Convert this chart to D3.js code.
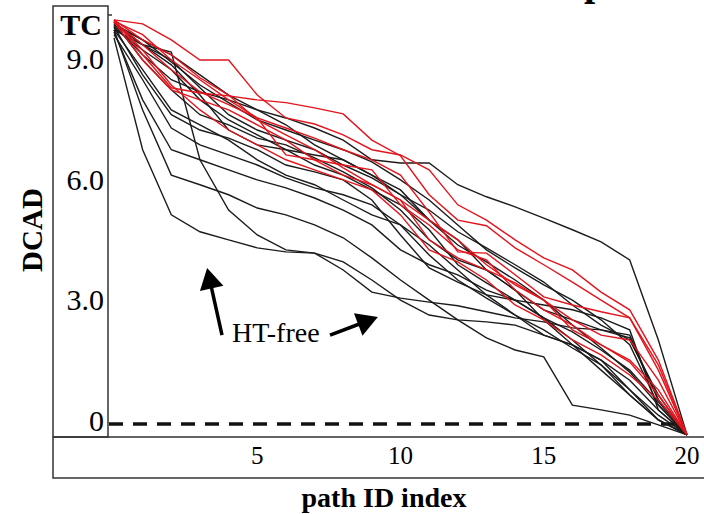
<!DOCTYPE html>
<html>
<head>
<meta charset="utf-8">
<script src="https://cdn.jsdelivr.net/npm/d3@7"></script>
<style>
  body { margin: 0; background: #fff; }
</style>
</head>
<body>
<div id="chart"></div>
<script>
// path ID index of every sample
const pathIndex = [0, 1, 2, 3, 4, 5, 6, 7, 8, 9, 10, 11, 12, 13, 14, 15, 16, 17, 18, 19, 20];

// DCAD values, red curves
const redSeries = [
    [10.05, 9.95, 9.55, 9.05, 9.05, 8.18, 7.61, 7.46, 7.19, 6.82, 6.69, 6.32, 5.45, 5.07, 4.58, 4.13, 3.83, 3.28, 2.84, 1.59, -0.27],
    [10.05, 9.18, 8.36, 8.23, 8.16, 8.06, 7.99, 7.86, 7.71, 7.06, 6.67, 5.70, 5.07, 4.93, 4.38, 3.96, 3.53, 3.08, 2.64, 1.34, -0.27],
    [10.0, 9.43, 8.81, 8.26, 7.94, 7.61, 7.36, 7.11, 6.82, 6.57, 6.19, 5.27, 4.28, 4.25, 3.71, 3.16, 2.96, 2.79, 2.64, 1.47, -0.27],
    [10.0, 9.05, 8.31, 8.06, 7.81, 7.44, 7.06, 6.57, 6.19, 5.95, 5.57, 4.58, 4.13, 3.83, 3.51, 3.08, 2.59, 2.21, 2.09, 1.09, -0.27],
    [10.05, 9.55, 9.18, 8.61, 8.18, 7.56, 7.19, 6.82, 6.37, 5.95, 5.57, 5.07, 4.58, 3.96, 3.46, 3.08, 2.34, 1.97, 1.59, 0.85, -0.27],
    [10.02, 9.68, 9.05, 8.56, 8.06, 7.61, 6.69, 6.57, 6.44, 6.32, 5.45, 4.95, 4.33, 4.08, 3.33, 2.84, 2.46, 1.97, 1.54, 0.72, -0.27],
    [10.02, 9.30, 8.43, 7.81, 7.31, 6.94, 6.57, 6.32, 6.07, 5.82, 5.20, 4.33, 4.03, 3.58, 2.96, 2.59, 2.09, 1.72, 1.22, 0.60, -0.27]
];

// DCAD values, black curves (HT-free)
const blackSeries = [
    [9.60, 6.82, 5.20, 4.78, 4.58, 4.38, 4.28, 4.25, 3.83, 3.28, 3.13, 3.03, 2.94, 2.79, 2.64, 2.54, 2.39, 2.34, 2.21, 0.60, -0.27],
    [9.80, 7.81, 6.19, 5.95, 5.70, 5.37, 5.20, 4.95, 4.63, 4.13, 3.58, 3.08, 2.59, 2.14, 1.84, 1.67, 0.47, 0.35, 0.22, -0.02, -0.27],
    [9.80, 9.43, 9.25, 6.57, 5.32, 4.70, 4.33, 4.25, 4.03, 3.58, 3.08, 2.71, 2.59, 2.54, 2.46, 2.21, 1.97, 1.59, 0.85, 0.10, -0.27],
    [9.93, 9.55, 9.18, 8.68, 8.18, 7.81, 7.61, 7.36, 7.06, 6.57, 6.49, 6.49, 5.95, 5.65, 5.40, 5.12, 4.83, 4.53, 4.08, 2.09, -0.27],
    [9.80, 8.81, 7.81, 7.44, 7.06, 6.57, 6.19, 5.95, 5.57, 5.20, 4.95, 4.45, 3.83, 3.21, 2.71, 2.21, 1.97, 1.59, 1.09, 0.35, -0.27],
    [9.68, 8.56, 7.36, 6.94, 6.69, 6.44, 6.12, 5.87, 5.70, 5.45, 4.95, 4.20, 3.58, 3.13, 2.71, 2.34, 1.89, 1.47, 0.85, 0.22, -0.27],
    [9.93, 9.43, 9.05, 8.36, 7.69, 7.31, 7.06, 6.82, 6.44, 6.12, 5.70, 5.07, 4.45, 4.03, 3.58, 3.08, 2.46, 1.89, 1.29, 0.47, -0.27],
    [9.85, 9.30, 8.81, 8.06, 7.56, 7.19, 6.82, 6.44, 6.19, 5.82, 5.45, 4.83, 3.96, 3.51, 3.08, 2.64, 2.29, 1.84, 1.34, 0.55, -0.27],
    [10.0, 9.43, 8.93, 8.18, 7.31, 6.94, 6.82, 6.69, 6.57, 6.19, 5.70, 5.32, 4.78, 4.38, 3.96, 3.53, 2.96, 2.46, 2.09, 0.72, -0.27],
    [9.98, 9.05, 8.31, 7.69, 7.44, 7.11, 6.94, 6.62, 6.27, 5.87, 5.32, 4.58, 4.08, 3.83, 3.33, 2.84, 2.59, 2.34, 2.14, 0.60, -0.27],
    [9.75, 8.06, 6.82, 6.57, 6.32, 6.07, 5.87, 5.62, 5.32, 4.95, 4.33, 3.96, 3.71, 3.33, 3.08, 2.64, 2.09, 1.47, 0.72, 0.10, -0.27],
    [9.90, 9.18, 8.56, 8.26, 8.06, 7.81, 7.44, 6.94, 6.57, 6.19, 5.82, 5.07, 4.58, 3.83, 3.33, 2.59, 1.97, 1.34, 0.72, 0.10, -0.27],
    [9.95, 9.55, 9.00, 8.43, 7.99, 7.56, 7.31, 7.06, 6.82, 6.52, 6.07, 5.57, 4.95, 4.33, 3.88, 3.46, 3.08, 2.59, 1.97, 0.47, -0.27],
    [9.88, 8.68, 7.69, 7.31, 7.11, 6.82, 6.44, 6.27, 6.07, 5.57, 4.70, 3.88, 3.53, 3.21, 3.08, 2.96, 2.84, 2.64, 2.34, 0.35, -0.27]
];

const yTicks = [0, 3, 6, 9];
const yTickLabels = ["0", "3.0", "6.0", "9.0"];
const tcLevel = 10;
const xTicks = [5, 10, 15, 20];

// annotation arrows, [index, DCAD]
const arrowUp = {from: [3.77, 2.21], to: [3.25, 3.88]};
const arrowRight = {from: [7.54, 2.21], to: [9.21, 2.66]};
const noteLabel = {at: [4.12, 2.04], text: "HT-free"};

const width = 704, height = 514;
const boxLeft = 53, boxRight = 108, boxTop = 6, axisY = 437, boxBottom = 478;
const serif = "'Liberation Serif', 'Times New Roman', Times, 'DejaVu Serif', serif";

const x = d3.scaleLinear().domain([0, 20]).range([114, 687]);
const y = d3.scaleLinear().domain([0, 10.17]).range([424, 15]);

const svg = d3.select("#chart").append("svg")
    .attr("width", width)
    .attr("height", height)
    .attr("font-family", serif)
    .style("font-family", serif);

// cut-off title glyph at the very top
svg.append("text")
    .attr("x", 584)
    .attr("y", -5)
    .attr("font-size", 40)
    .attr("font-weight", "bold")
    .text("p");

// frame: y label box and x label box
const frame = svg.append("g")
    .attr("fill", "none")
    .attr("stroke", "#333")
    .attr("stroke-width", 1.5);
frame.append("rect")
    .attr("x", boxLeft).attr("y", boxTop)
    .attr("width", boxRight - boxLeft).attr("height", axisY - boxTop);
frame.append("path")
    .attr("d", `M${boxLeft},${axisY}H${width}M${boxLeft},${axisY}V${boxBottom}H${width}`);

// small tick at the top of the y axis
svg.append("line")
    .attr("x1", boxRight).attr("x2", boxRight + 4)
    .attr("y1", y(10.17)).attr("y2", y(10.17))
    .attr("stroke", "#333").attr("stroke-width", 1.5);

// y tick labels
svg.append("g")
    .attr("text-anchor", "end")
    .attr("font-size", 30)
    .selectAll("text")
    .data(yTicks)
    .join("text")
    .attr("x", 104)
    .attr("y", d => y(d) + 7)
    .text((d, i) => yTickLabels[i]);

svg.append("text")
    .attr("x", 102)
    .attr("y", y(tcLevel) + 13)
    .attr("text-anchor", "end")
    .attr("font-size", 30)
    .attr("font-weight", "bold")
    .text("TC");

// x tick labels
svg.append("g")
    .attr("text-anchor", "middle")
    .attr("font-size", 25)
    .selectAll("text")
    .data(xTicks)
    .join("text")
    .attr("x", d => x(d))
    .attr("y", 464)
    .text(d => d);

// axis titles
svg.append("text")
    .attr("x", 384)
    .attr("y", 507)
    .attr("text-anchor", "middle")
    .attr("font-size", 28)
    .attr("font-weight", "bold")
    .text("path ID index");

svg.append("text")
    .attr("transform", "translate(42,230) rotate(-90)")
    .attr("text-anchor", "middle")
    .attr("font-size", 29)
    .attr("font-weight", "bold")
    .text("DCAD");

// dashed zero level
svg.append("line")
    .attr("x1", boxRight + 1).attr("x2", x(20) - 8)
    .attr("y1", y(0)).attr("y2", y(0))
    .attr("stroke", "#111")
    .attr("stroke-width", 3.5)
    .attr("stroke-dasharray", "14,10");

const line = d3.line()
    .x((d, i) => x(pathIndex[i]))
    .y(d => y(d));

svg.append("g")
    .attr("fill", "none")
    .attr("stroke", "#1c1c1c")
    .attr("stroke-width", 1.4)
    .selectAll("path")
    .data(blackSeries)
    .join("path")
    .attr("d", line);

svg.append("g")
    .attr("fill", "none")
    .attr("stroke", "#e3141c")
    .attr("stroke-width", 1.4)
    .selectAll("path")
    .data(redSeries)
    .join("path")
    .attr("d", line);

// arrows
function drawArrow(a) {
    const x0 = x(a.from[0]), y0 = y(a.from[1]);
    const x1 = x(a.to[0]), y1 = y(a.to[1]);
    const len = Math.hypot(x1 - x0, y1 - y0);
    const ux = (x1 - x0) / len, uy = (y1 - y0) / len;
    const headLen = 21, halfW = 12;
    const bx = x1 - ux * headLen, by = y1 - uy * headLen;
    svg.append("line")
        .attr("x1", x0).attr("y1", y0)
        .attr("x2", bx + ux * 2).attr("y2", by + uy * 2)
        .attr("stroke", "#000").attr("stroke-width", 3.5);
    svg.append("path")
        .attr("d", `M${x1},${y1}L${bx - uy * halfW},${by + ux * halfW}L${bx + uy * halfW},${by - ux * halfW}Z`)
        .attr("fill", "#000");
}
drawArrow(arrowUp);
drawArrow(arrowRight);

svg.append("text")
    .attr("x", x(noteLabel.at[0]))
    .attr("y", y(noteLabel.at[1]))
    .attr("font-size", 28)
    .text(noteLabel.text);
</script>
</body>
</html>
